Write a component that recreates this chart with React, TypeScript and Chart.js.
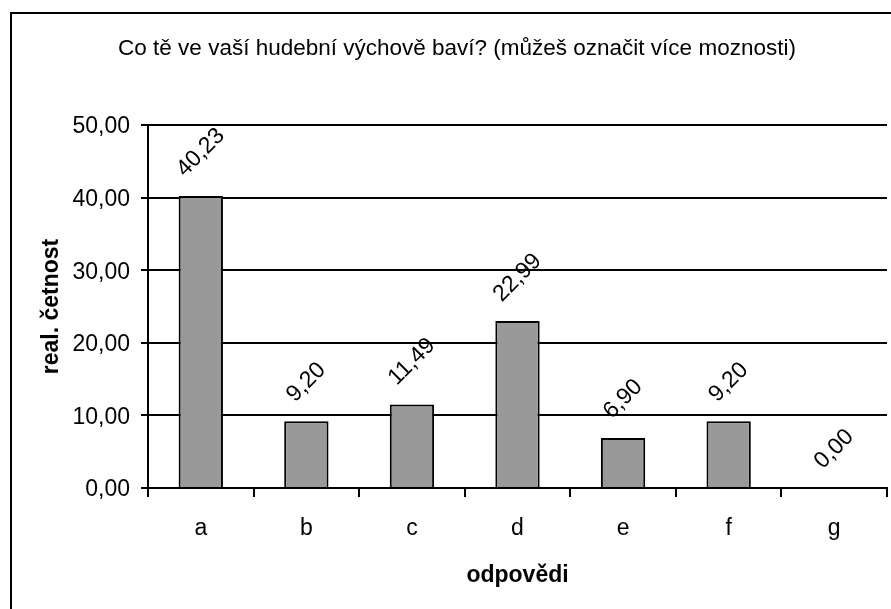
import React, { useEffect, useRef } from "react";
import { Chart, registerables } from "chart.js";

Chart.register(...registerables);

const categories = ["a", "b", "c", "d", "e", "f", "g"];
const values = [40.23, 9.2, 11.49, 22.99, 6.9, 9.2, 0.0];
const yTicks = [0, 10, 20, 30, 40, 50];
const titleText = "Co tě ve vaší hudební výchově baví? (můžeš označit více moznosti)";
const xTitle = "odpovědi";
const yTitle = "real. četnost";

const FONT = "'Liberation Sans', Arial, sans-serif";
const fmt = (v: number) => v.toFixed(2).replace(".", ",");

const decorPlugin = {
  id: "decor",
  beforeDraw(chart: any) {
    const ctx = chart.ctx;
    ctx.save();
    ctx.fillStyle = "#fff";
    ctx.fillRect(0, 0, chart.width, chart.height);
    ctx.strokeStyle = "#000";
    ctx.lineWidth = 2;
    ctx.strokeRect(11, 13, chart.width + 20, chart.height + 20);
    ctx.restore();
  },
  afterDraw(chart: any) {
    const ctx = chart.ctx;
    const area = chart.chartArea;
    ctx.save();
    ctx.fillStyle = "#000";
    ctx.textAlign = "center";
    ctx.textBaseline = "middle";
    ctx.font = `22.5px ${FONT}`;
    ctx.fillText(titleText, 457, 49);
    ctx.font = `bold 23px ${FONT}`;
    ctx.fillText(xTitle, (area.left + area.right) / 2, 576);
    ctx.save();
    ctx.translate(52, (area.top + area.bottom) / 2);
    ctx.rotate(-Math.PI / 2);
    ctx.fillText(yTitle, 0, 0);
    ctx.restore();
    // data labels
    ctx.font = `23px ${FONT}`;
    const meta = chart.getDatasetMeta(0);
    meta.data.forEach((el: any, i: number) => {
      const txt = fmt(values[i]);
      const w = ctx.measureText(txt).width;
      const h = 17;
      const off = 17 + (w + h) * 0.3535;
      ctx.save();
      ctx.translate(el.x, el.y - off);
      ctx.rotate(-Math.PI / 4);
      ctx.fillText(txt, 0, 0);
      ctx.restore();
    });
    ctx.restore();
  },
};

export default function App() {
  const ref = useRef<HTMLCanvasElement>(null);
  useEffect(() => {
    if (!ref.current) return;
    const chart = new Chart(ref.current, {
      type: "bar",
      data: {
        labels: categories,
        datasets: [
          {
            data: values,
            backgroundColor: "#999999",
            borderColor: "#000",
            borderWidth: (c: any) => (c.raw === 0 ? 0 : 2),
            barPercentage: 0.42,
            categoryPercentage: 1,
          },
        ],
      },
      options: {
        animation: false,
        responsive: false,
        maintainAspectRatio: false,
        layout: { padding: { top: 125, right: 4, left: 0, bottom: 0 } },
        plugins: {
          legend: { display: false },
          title: { display: false },
          tooltip: { enabled: false },
        },
        scales: {
          x: {
            offset: true,
            afterFit: (s: any) => {
              s.height = 121;
            },
            grid: {
              offset: true,
              drawOnChartArea: true,
              color: (c: any) => (c.index === categories.length ? "#000" : "rgba(0,0,0,0)"),
              tickColor: "#000",
              tickLength: 9,
              lineWidth: 2,
            },
            border: { color: "#000", width: 2 },
            ticks: {
              color: "#000",
              font: { family: FONT, size: 23 },
              padding: 18,
              maxRotation: 0,
            },
          },
          y: {
            min: 0,
            max: 50,
            afterFit: (s: any) => {
              s.width = 148;
            },
            afterBuildTicks: (s: any) => {
              s.ticks = yTicks.map((v) => ({ value: v }));
            },
            grid: {
              color: "#000",
              lineWidth: 2,
              tickLength: 7,
              tickColor: "#000",
            },
            border: { color: "#000", width: 2 },
            ticks: {
              color: "#000",
              font: { family: FONT, size: 23 },
              padding: 11,
              labelOffset: 2,
              callback: (v: any) => fmt(Number(v)),
            },
          },
        },
      },
      plugins: [decorPlugin],
    });
    return () => chart.destroy();
  }, []);
  return (
    <div style={{ position: "fixed", left: 0, top: 0, width: 891, height: 609 }}>
      <canvas ref={ref} width={891} height={609} style={{ display: "block", width: 891, height: 609 }} />
    </div>
  );
}
